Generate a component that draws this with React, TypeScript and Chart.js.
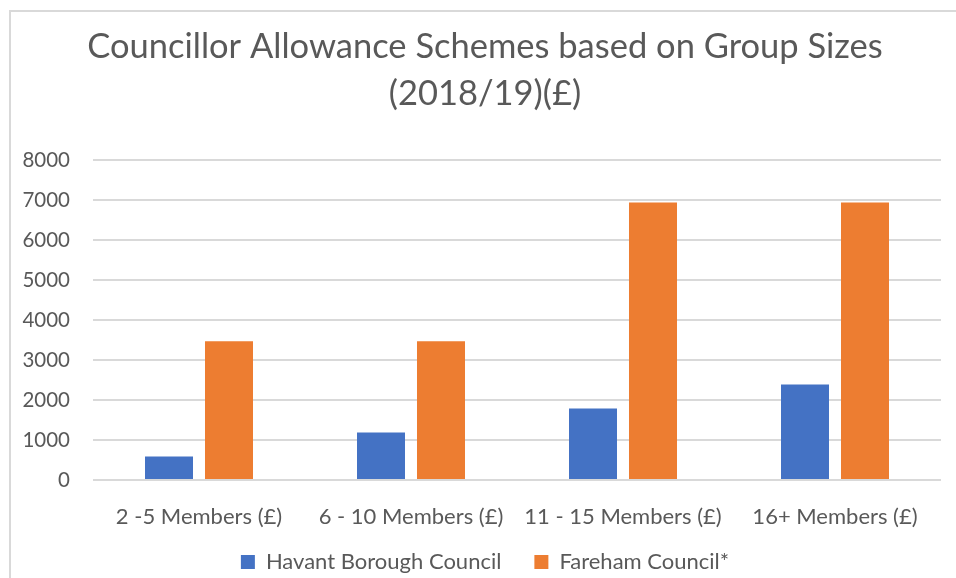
import React, { useEffect, useRef } from "react";
import { Chart, registerables } from "chart.js";

Chart.register(...registerables);

const categories = ["2 -5 Members (£)", "6 - 10 Members (£)", "11 - 15 Members (£)", "16+ Members (£)"];
const havantValues = [590, 1190, 1790, 2390];
const farehamValues = [3470, 3470, 6940, 6940];
const seriesNames = ["Havant Borough Council", "Fareham Council*"];
const titleLines = ["Councillor Allowance Schemes based on Group Sizes", "(2018/19)(£)"];

const FONT = "Lato, 'Open Sans', sans-serif";
const TEXT = "#595959";
const GRID = "#d9d9d9";

export default function App() {
  const ref = useRef<HTMLCanvasElement | null>(null);

  useEffect(() => {
    if (!ref.current) return;
    const chart = new Chart(ref.current, {
      type: "bar",
      data: {
        labels: categories,
        datasets: [
          {
            label: seriesNames[0],
            data: havantValues,
            backgroundColor: "#4472C4",
            categoryPercentage: 0.566,
            barPercentage: 0.8,
          },
          {
            label: seriesNames[1],
            data: farehamValues,
            backgroundColor: "#ED7D31",
            categoryPercentage: 0.566,
            barPercentage: 0.8,
          },
        ],
      },
      options: {
        animation: false,
        responsive: false,
        maintainAspectRatio: false,
        layout: { padding: { left: 29, right: 15, top: 0, bottom: -5 } },
        plugins: {
          title: {
            display: true,
            text: titleLines,
            color: TEXT,
            font: { family: FONT, size: 34.5, weight: "normal", lineHeight: 1.36 },
            padding: { top: 23, bottom: 43.2 },
          },
          legend: {
            position: "bottom",
            labels: {
              color: TEXT,
              font: { family: FONT, size: 22 },
              boxWidth: 14,
              boxHeight: 14,
              padding: 33,
            },
          },
          tooltip: { enabled: false },
        },
        scales: {
          x: {
            grid: { display: false, drawTicks: false },
            border: { display: false },
            ticks: { color: TEXT, font: { family: FONT, size: 22 }, padding: 24, maxRotation: 0 },
            afterFit: (s: any) => {
              s.height = 38;
              s._computeLabelArea = () => undefined;
            },
          },
          y: {
            min: 0,
            max: 8000,
            ticks: {
              stepSize: 1000,
              color: TEXT,
              font: { family: FONT, size: 20.5 },
              padding: 23,
              callback: (v: any) => String(v),
            },
            grid: { color: GRID, lineWidth: 2, drawTicks: false },
            border: { display: false },
            afterFit: (s: any) => {
              s.width = 64;
              s._computeLabelArea = () => undefined;
            },
          },
        },
      },
    });
    return () => chart.destroy();
  }, []);

  return (
    <div style={{ position: "fixed", left: 0, top: 0, width: 956, height: 578, background: "#fff" }}>
      <div
        style={{
          position: "absolute",
          left: 9,
          top: 10,
          width: 1000,
          height: 700,
          border: "2px solid #d9d9d9",
          boxSizing: "border-box",
        }}
      />
      <canvas ref={ref} width={956} height={578} style={{ position: "absolute", left: 0, top: 0 }} />
    </div>
  );
}
